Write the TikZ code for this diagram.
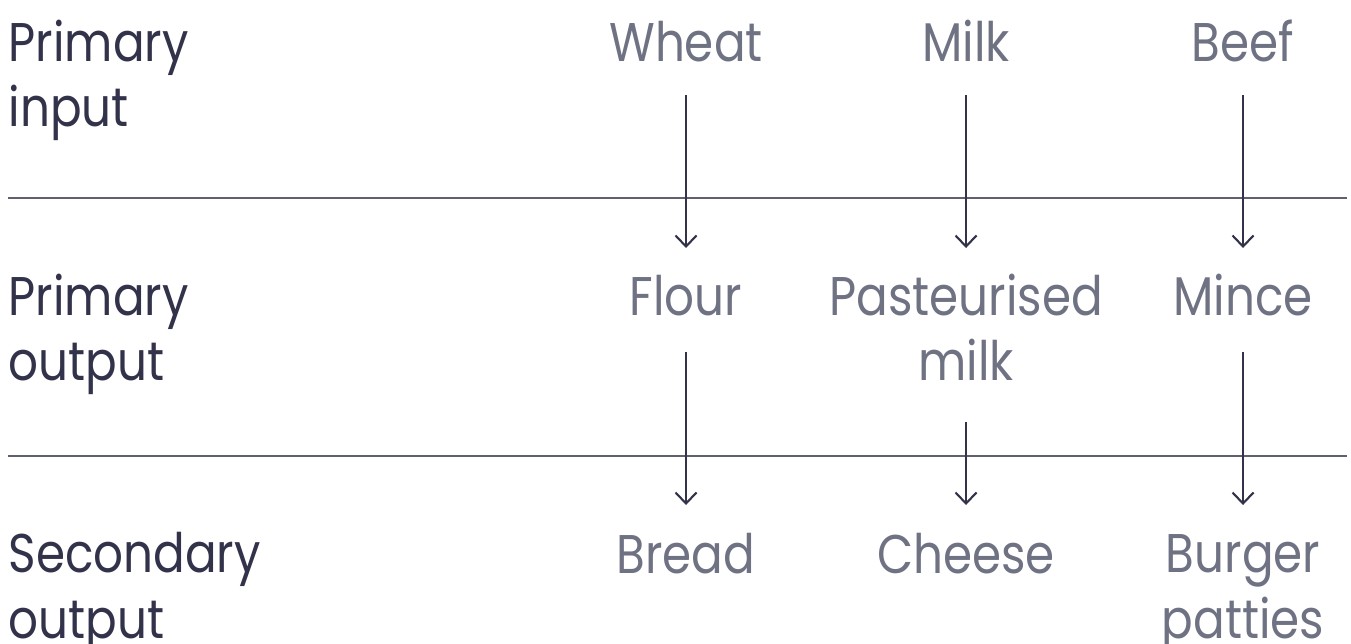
\documentclass[tikz,border=0pt]{standalone}
\usepackage{fontspec}
\setmainfont{Poppins}[FakeStretch=0.86]
\usetikzlibrary{arrows.meta,positioning}
\definecolor{inkdark}{HTML}{32334A}
\definecolor{inkgrey}{HTML}{6F7283}
\definecolor{rulegrey}{HTML}{5F6070}

\begin{document}
\begin{tikzpicture}[x=0.02cm,y=-0.02cm,thick,align=center,
  font=\fontsize{31}{37}\selectfont,
  stage/.style={anchor=base west,inner sep=0pt,text=inkdark,align=left},
  food/.style={anchor=base,inner sep=0pt,text=inkgrey},
  flow/.style={-{Straight Barb[length=0.22cm,width=0.42cm]},line width=1.2pt,draw=inkdark}]
	\useasboundingbox (0,0) rectangle (1351,644);
	%% Row labels (anchored at the last line)
	\node (RowIn)  [stage] at (8,127) {Primary\\input};
	\node (RowOut) [stage] at (8,381) {Primary\\output};
	\node (RowSec) [stage] at (8,638) {Secondary\\output};
	
	%% Separators
	\draw[rulegrey,line width=0.7pt] (8,198) -- (1347,198);
	\draw[rulegrey,line width=0.7pt] (8,456) -- (1347,456);
	
	%% Inputs
	\node (Wheat) [food] at (686,62) {Wheat};
	\node (Milk)  [food] at (966,62) {Milk};
	\node (Beef)  [food] at (1243,62) {Beef};
	
	%% Primary outputs
	\node (Flour) [food] at (686,316) {Flour};
	\node (Past)  [food] at (966,381) {Pasteurised\\milk};
	\node (Mince) [food] at (1243,316) {Mince};
	
	%% Secondary outputs
	\node (Bread)  [food] at (686,573) {Bread};
	\node (Cheese) [food] at (966,573) {Cheese};
	\node (Burger) [food] at (1243,638) {Burger\\patties};
	
	%% Flows
	\draw[flow,shorten <=0.66cm,shorten >=1.36cm] (Wheat.base) -- (Flour.base);
	\draw[flow,shorten <=0.66cm,shorten >=2.66cm] (Milk.base) -- (Past.base);
	\draw[flow,shorten <=0.66cm,shorten >=1.36cm] (Beef.base) -- (Mince.base);
	\draw[flow,shorten <=0.72cm,shorten >=1.36cm] (Flour.base) -- (Bread.base);
	\draw[flow,shorten <=0.82cm,shorten >=1.36cm] (Past.base) -- (Cheese.base);
	\draw[flow,shorten <=0.72cm,shorten >=2.66cm] (Mince.base) -- (Burger.base);
\end{tikzpicture}
\end{document}
